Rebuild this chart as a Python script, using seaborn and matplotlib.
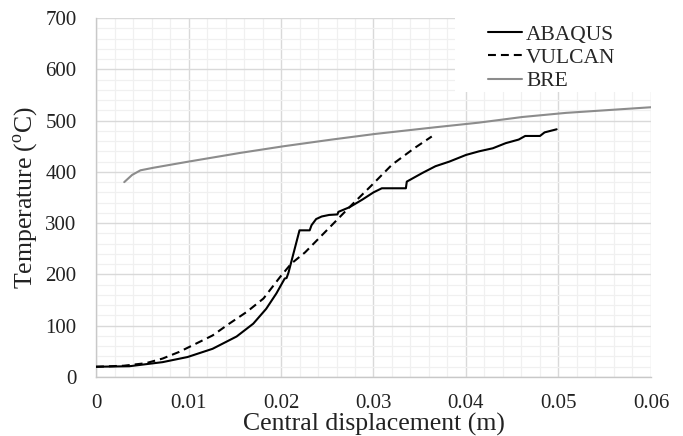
import matplotlib
matplotlib.use("Agg")
import matplotlib.pyplot as plt
from matplotlib.patches import Rectangle
from matplotlib.ticker import MultipleLocator
import seaborn as sns

# values
abaqus_x = [0.0, 0.0036, 0.0072, 0.0099, 0.0126, 0.0152, 0.017, 0.0184, 0.0195,
            0.0204, 0.0206, 0.0208, 0.0220, 0.0231, 0.0233, 0.0238, 0.0244,
            0.0252, 0.0261, 0.0262, 0.0274, 0.0288, 0.030, 0.0309, 0.0335, 0.0336,
            0.0353, 0.0367, 0.0382, 0.040, 0.0414, 0.0429, 0.0443, 0.0457, 0.0464,
            0.048, 0.0485, 0.0498]
abaqus_y = [20, 21, 29, 39, 55, 79, 104, 133, 163,
            192, 193, 203, 286, 286, 296, 308, 313,
            316, 317, 322, 331, 346, 360, 368, 368, 381,
            398, 411, 420, 433, 440, 446, 456, 463, 470,
            470, 477, 483]

vulcan_x = [0.0, 0.003, 0.0054, 0.0072, 0.009, 0.0108, 0.0126, 0.0144, 0.0163, 0.0181,
            0.0199, 0.0211, 0.0226, 0.025, 0.0275, 0.0297, 0.032, 0.0344, 0.0363]
vulcan_y = [20, 22, 27, 36, 49, 65, 81, 104, 127, 153,
            195, 221, 243, 287, 333, 372, 414, 446, 469]

bre_x = [0.00305, 0.0039, 0.0048, 0.0062, 0.01, 0.0156, 0.0203, 0.0255, 0.0302,
         0.0367, 0.0414, 0.0461, 0.0508, 0.06]
bre_y = [380, 394, 403, 408, 420, 437, 450, 463, 474,
         487, 496, 507, 515, 526]

x_ticks = [0, 0.01, 0.02, 0.03, 0.04, 0.05, 0.06]
x_labels = ["0", "0.01", "0.02", "0.03", "0.04", "0.05", "0.06"]

sns.set_theme(style="white")
plt.rcParams["font.family"] = ["Liberation Serif", "DejaVu Serif"]
plt.rcParams["mathtext.fontset"] = "custom"
plt.rcParams["mathtext.rm"] = "Liberation Serif"

fig = plt.figure(figsize=(6.83, 4.36), dpi=100)
ax = fig.add_axes([0.1406, 0.1353, 0.8125, 0.8234])

sns.lineplot(x=abaqus_x, y=abaqus_y, ax=ax, color="black", lw=1.5, sort=False,
             label="ABAQUS", zorder=3)
sns.lineplot(x=vulcan_x, y=vulcan_y, ax=ax, color="black", lw=1.5, sort=False,
             label="VULCAN", zorder=3)
ax.lines[-1].set_dashes((3.8, 2.4))
sns.lineplot(x=bre_x, y=bre_y, ax=ax, color="#8c8c8c", lw=1.5, sort=False,
             label="BRE", zorder=3)

ax.set_xlim(0, 0.06)
ax.set_ylim(0, 700)
ax.set_xticks(x_ticks)
ax.set_xticklabels(x_labels)
ax.xaxis.set_minor_locator(MultipleLocator(0.002))
ax.yaxis.set_major_locator(MultipleLocator(100))
ax.yaxis.set_minor_locator(MultipleLocator(20))
ax.grid(which="major", color="#d9d9d9", lw=1.0)
ax.grid(which="minor", color="#f0f0f0", lw=0.9)
ax.set_axisbelow(True)
ax.tick_params(which="both", length=0, labelsize=15, colors="#222222")
ax.tick_params(axis="y", pad=14)
ax.tick_params(axis="x", pad=12)
for side in ["top", "right"]:
    ax.spines[side].set_visible(False)
for side in ["left", "bottom"]:
    ax.spines[side].set_color("#c8c8c8")
    ax.spines[side].set_linewidth(1.0)

ax.set_xlabel("Central displacement (m)", fontsize=18.5, labelpad=0, color="#222222")
ax.set_ylabel(r"Temperature ($^{\mathrm{o}}$C)", fontsize=18.5, labelpad=4, color="#222222")

# white legend area covering the grid
ax.add_patch(Rectangle((0.647, 0.794), 0.353, 0.206, transform=ax.transAxes,
                       facecolor="white", edgecolor="none", zorder=2))
leg = ax.legend(loc="upper left", bbox_to_anchor=(0.707, 0.982), frameon=False,
                fontsize=15.5, handlelength=1.55, handletextpad=0.2,
                labelspacing=0.15, borderpad=0, borderaxespad=0)
leg.set_zorder(4)

fig.savefig("out.png", dpi=100)
